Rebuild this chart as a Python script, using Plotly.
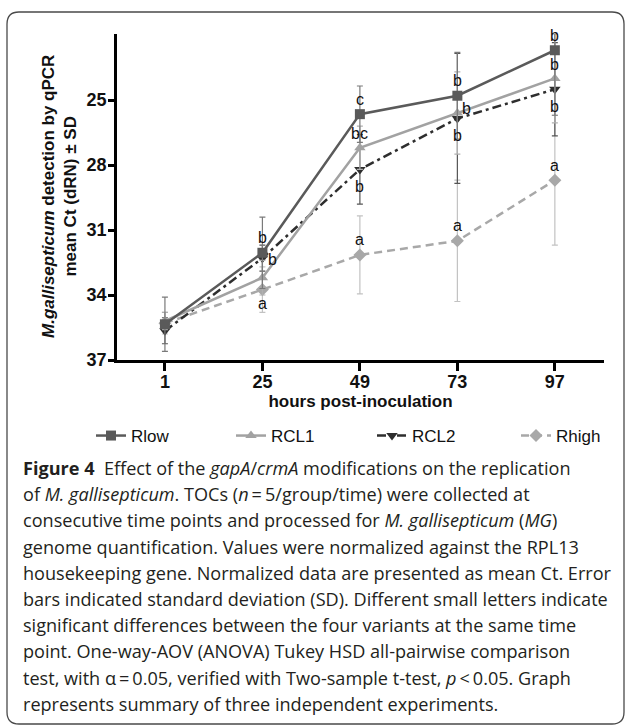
import plotly.graph_objects as go

# ---------------- data ----------------
hours = [1, 25, 49, 73, 97]
hour_labels = ["1", "25", "49", "73", "97"]
ct_ticks = [25, 28, 31, 34, 37]
ct_tick_labels = ["25", "28", "31", "34", "37"]

series_names = ["Rlow", "RCL1", "RCL2", "Rhigh"]
Rlow_ct = [35.35, 32.05, 25.65, 24.8, 22.7]
Rlow_sd = [1.25, 1.65, 1.3, 2.0, 3.0]
RCL1_ct = [35.2, 33.2, 27.2, 25.6, 24.0]
RCL1_sd = [0.4, 0.8, 1.0, 1.9, 2.05]
RCL2_ct = [35.65, 32.3, 28.2, 25.85, 24.5]
RCL2_sd = [0.6, 0.6, 1.6, 3.0, 2.15]
Rhigh_ct = [35.3, 33.75, 32.15, 31.5, 28.7]
Rhigh_sd = [0.5, 1.05, 1.8, 2.8, 3.0]

Rlow_letters = ["", "b", "c", "b", "b"]
RCL1_letters = ["", "", "bc", "b", "b"]
RCL2_letters = ["", "b", "b", "b", "b"]
Rhigh_letters = ["", "a", "a", "a", "a"]

caption_lines = [
    "<b>Figure 4</b>  Effect of the <i>gapA</i>/<i>crmA</i> modifications on the replication",
    "of <i>M. gallisepticum</i>. TOCs (<i>n</i>\u2009=\u20095/group/time) were collected at",
    "consecutive time points and processed for <i>M. gallisepticum</i> (<i>MG</i>)",
    "genome quantification. Values were normalized against the RPL13",
    "housekeeping gene. Normalized data are presented as mean Ct. Error",
    "bars indicated standard deviation (SD). Different small letters indicate",
    "significant differences between the four variants at the same time",
    "point. One-way-AOV (ANOVA) Tukey HSD all-pairwise comparison",
    "test, with \u03b1\u2009=\u20090.05, verified with Two-sample t-test, <i>p</i>\u2009&lt;\u20090.05. Graph",
    "represents summary of three independent experiments.",
]

# ---------------- geometry ----------------
W, H = 627, 725
L, R, T, B = 117, 23, 34, 365
PW, PH = W - L - R, H - T - B


def px(xp):
    return (xp - L) / PW


def py(yp):
    return (H - B - yp) / PH


AX_FONT = "Liberation Sans, Arial, Helvetica, sans-serif"
CAP_FONT = "Open Sans, Noto Sans, sans-serif"

styles = {
    "Rlow": dict(color="#5a5a5a", err="#7a7a7a", symbol="square", dash="solid", size=10),
    "RCL1": dict(color="#a2a2a2", err="#b0b0b0", symbol="triangle-up", dash="solid", size=10),
    "RCL2": dict(color="#2e2e2e", err="#555555", symbol="triangle-down", dash="9px,4px,3px,4px", size=10),
    "Rhigh": dict(color="#a8a8a8", err="#c2c2c2", symbol="diamond", dash="8px,5px", size=10),
}
values = {"Rlow": (Rlow_ct, Rlow_sd), "RCL1": (RCL1_ct, RCL1_sd),
          "RCL2": (RCL2_ct, RCL2_sd), "Rhigh": (Rhigh_ct, Rhigh_sd)}
legend_ids = {"Rlow": "legend", "RCL1": "legend2", "RCL2": "legend3", "Rhigh": "legend4"}
legend_text_x = {"Rlow": 133, "RCL1": 273, "RCL2": 414, "Rhigh": 558}

fig = go.Figure()
for name in ["Rhigh", "RCL2", "RCL1", "Rlow"]:
    st = styles[name]
    ct, sd = values[name]
    fig.add_trace(go.Scatter(
        x=hours, y=ct, name=name, mode="lines+markers",
        line=dict(color=st["color"], width=2.5, dash=st["dash"]),
        marker=dict(symbol=st["symbol"], size=st["size"], color=st["color"]),
        error_y=dict(type="data", array=sd, visible=True, color=st["err"],
                     thickness=1.2, width=3),
        legend=legend_ids[name],
        cliponaxis=True,
    ))

# significance letters
letters = {"Rlow": Rlow_letters, "RCL1": RCL1_letters, "RCL2": RCL2_letters, "Rhigh": Rhigh_letters}
annotations = []
for name in series_names:
    ct, _ = values[name]
    for i, (h, v, lab) in enumerate(zip(hours, ct, letters[name])):
        if not lab:
            continue
        dx, dy = 0, 15
        if name == "RCL1":
            dy = 14
            if h == 73:
                dx, dy = 9, 5
        elif name == "RCL2":
            dy = -17
            if h == 25:
                dx, dy = 10, -1
        elif name == "Rhigh":
            dy = 15
            if h == 25:
                dy = -14
        annotations.append(dict(
            x=h, y=v, xref="x", yref="y", text=lab, showarrow=False,
            xshift=dx, yshift=dy, font=dict(family=AX_FONT, size=16, color="#111111"),
        ))

# caption
cap_y0, cap_dy = 468, 26.2
for i, line in enumerate(caption_lines):
    annotations.append(dict(
        x=px(21), y=py(cap_y0 + i * cap_dy), xref="paper", yref="paper",
        xanchor="left", yanchor="middle", text=line, showarrow=False, align="left",
        font=dict(family=CAP_FONT, size=18.1, color="#231f20"),
    ))

# y axis title as annotation
annotations.append(dict(
    x=px(59), y=py(197), xref="paper", yref="paper", textangle=-90,
    text="<b><i>M.gallisepticum</i> detection by qPCR<br>mean Ct (dRN) \u00b1 SD</b>",
    showarrow=False, xanchor="center", yanchor="middle",
    font=dict(family=AX_FONT, size=17, color="#111111"),
))

# rounded border
x0, x1, y0, y1, r = 7, 624, 12, 724, 12
path = (f"M {px(x0+r)},{py(y0)} L {px(x1-r)},{py(y0)} Q {px(x1)},{py(y0)} {px(x1)},{py(y0+r)} "
        f"L {px(x1)},{py(y1-r)} Q {px(x1)},{py(y1)} {px(x1-r)},{py(y1)} "
        f"L {px(x0+r)},{py(y1)} Q {px(x0)},{py(y1)} {px(x0)},{py(y1-r)} "
        f"L {px(x0)},{py(y0+r)} Q {px(x0)},{py(y0)} {px(x0+r)},{py(y0)} Z")

legend_common = dict(orientation="h", yanchor="middle", xanchor="left",
                     bgcolor="rgba(0,0,0,0)", font=dict(family=AX_FONT, size=17, color="#111111"))
fig.update_layout(
    width=W, height=H, margin=dict(l=L, r=R, t=T, b=B),
    paper_bgcolor="white", plot_bgcolor="white",
    shapes=[dict(type="path", path=path, xref="paper", yref="paper",
                 line=dict(color="#4a4a4a", width=1.3), layer="below")],
    annotations=annotations,
    xaxis=dict(range=[-10.8, 109.1], tickvals=hours, ticktext=hour_labels,
               showline=True, linecolor="black", linewidth=2.5, ticks="outside",
               ticklen=8, tickwidth=2.5, tickcolor="black", showgrid=False, zeroline=False,
               ticklabelstandoff=-4,
               tickfont=dict(family=AX_FONT, size=18, color="#111111", weight="bold"),
               title=dict(text="<b>hours post-inoculation</b>", standoff=4,
                          font=dict(family=AX_FONT, size=17, color="#111111"))),
    yaxis=dict(range=[37, 21.95], tickvals=ct_ticks, ticktext=ct_tick_labels,
               showline=True, linecolor="black", linewidth=2.5, ticks="outside",
               ticklen=6, tickwidth=2.5, tickcolor="black", showgrid=False, zeroline=False,
               ticklabelstandoff=-2,
               tickfont=dict(family=AX_FONT, size=18, color="#111111", weight="bold")),
    legend=dict(x=px(legend_text_x["Rlow"] - 42), y=py(436), **legend_common),
    legend2=dict(x=px(legend_text_x["RCL1"] - 42), y=py(436), **legend_common),
    legend3=dict(x=px(legend_text_x["RCL2"] - 42), y=py(436), **legend_common),
    legend4=dict(x=px(legend_text_x["Rhigh"] - 42), y=py(436), **legend_common),
    showlegend=True,
)

fig.write_html("out.html", config={"displayModeBar": False},
               post_script="document.body.style.margin='0';")
